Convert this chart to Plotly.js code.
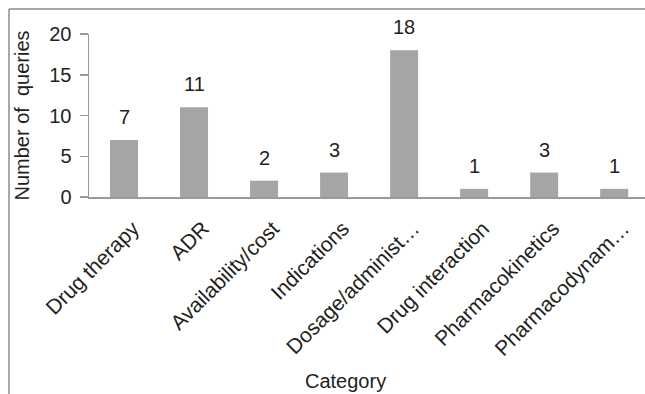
<!DOCTYPE html>
<html><head><meta charset="utf-8">
<script src="https://cdn.plot.ly/plotly-3.0.1.min.js"></script>
<style>html,body{margin:0;padding:0;background:#fff;overflow:hidden}</style>
</head><body>
<div id="chart" style="width:645px;height:394px"></div>
<script>
const categories = ["Drug therapy","ADR","Availability/cost","Indications","Dosage/administ…","Drug interaction","Pharmacokinetics","Pharmacodynam…"];
const values = [7,11,2,3,18,1,3,1];
const yTicks = [0,5,10,15,20];

const W = 645, H = 394, L = 89, T = 34, B = 197;
const plotW = W - L, plotH = H - T - B;
const px2x = p => (p - L) / plotW;
const py2y = p => (H - B - p) / plotH;

const textColor = "#231f20";
const fam = "Liberation Sans, Arial, sans-serif";

const annotations = categories.map((c, i) => ({
  x: c, y: values[i], xref: "x", yref: "y", text: String(values[i]),
  showarrow: false, yanchor: "bottom", yshift: 10,
  font: {family: fam, size: 20, color: textColor}
}));
annotations.push({
  x: px2x(345), y: py2y(381), xref: "paper", yref: "paper", text: "Category",
  showarrow: false, xanchor: "center", yanchor: "middle",
  font: {family: fam, size: 20, color: textColor}
});

const data = [{
  type: "bar", x: categories, y: values,
  marker: {color: "#a5a5a8"}, width: 0.4, hoverinfo: "none"
}];

const layout = {
  width: W, height: H,
  margin: {l: L, r: 0, t: T, b: B, pad: 0},
  paper_bgcolor: "#fff", plot_bgcolor: "#fff",
  showlegend: false,
  font: {family: fam, size: 20, color: textColor},
  xaxis: {
    type: "category", range: [-0.5, 7.44], tickangle: -45,
    showline: true, linecolor: "#9a9a9a", linewidth: 2,
    ticks: "", showgrid: false, zeroline: false,
    ticklabelshift: 9, ticklabelstandoff: 9,
    tickfont: {family: fam, size: 21, color: textColor},
    automargin: false
  },
  yaxis: {
    range: [0, 20], tickvals: yTicks, ticktext: yTicks.map(String),
    showline: true, linecolor: "#9a9a9a", linewidth: 1.5,
    ticks: "outside", ticklen: 8, tickcolor: "#9a9a9a", tickwidth: 1.5,
    ticklabelstandoff: 4,
    showgrid: false, zeroline: false,
    tickfont: {family: fam, size: 20, color: textColor},
    title: {text: "Number of\u00a0 queries", font: {family: fam, size: 20, color: textColor}, standoff: 14},
    automargin: false
  },
  annotations: annotations,
  shapes: [
    {type: "line", xref: "paper", yref: "paper", x0: px2x(9), x1: px2x(650), y0: py2y(9), y1: py2y(9), line: {color: "#8a8a8a", width: 1.5}},
    {type: "line", xref: "paper", yref: "paper", x0: px2x(9), x1: px2x(9), y0: py2y(9), y1: py2y(400), line: {color: "#8a8a8a", width: 1.5}}
  ]
};

Plotly.newPlot("chart", data, layout, {staticPlot: true, displayModeBar: false});
</script>
</body></html>
